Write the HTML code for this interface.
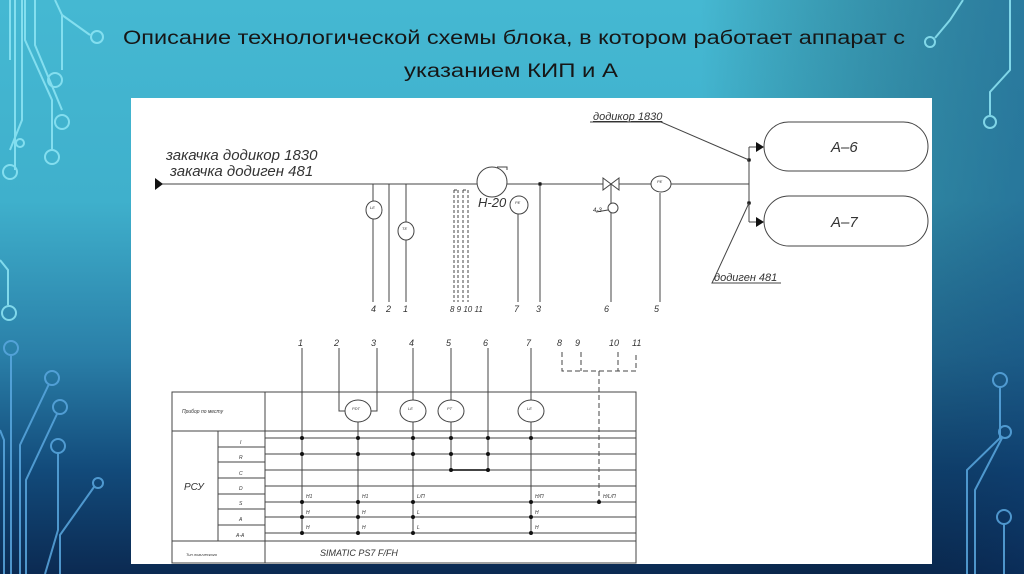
<!DOCTYPE html>
<html><head><meta charset="utf-8"><style>
html,body{margin:0;padding:0;width:1024px;height:574px;overflow:hidden}
body{background:linear-gradient(180deg,#45b8d2 0%,#3fb0cc 35%,#2a7fa8 62%,#124a7a 82%,#0b2a52 100%)}
svg{position:absolute;left:0;top:0}
.d text{font-family:"Liberation Sans",sans-serif;font-style:italic;fill:#333}
</style></head><body>
<svg width="1024" height="574" viewBox="0 0 1024 574">
<defs><linearGradient id="rg" x1="0" x2="1" y1="0" y2="0"><stop offset="0" stop-color="#000" stop-opacity="0"/><stop offset="1" stop-color="#0a3060" stop-opacity="0.45"/></linearGradient></defs>
<rect x="700" y="0" width="324" height="574" fill="url(#rg)"/>
<g fill="none" stroke="#8fe6f5" stroke-width="2" opacity="0.85">
<path d="M15 0V170"/><path d="M22 0V120L10 150"/><path d="M10 0V60"/>
<path d="M25 0V40L52 100V150"/><path d="M35 0V45L62 110"/>
<path d="M55 0L62 15V70"/><path d="M62 15L90 35"/>
<circle cx="10" cy="172" r="7"/><circle cx="20" cy="143" r="4"/><circle cx="55" cy="80" r="7"/><circle cx="62" cy="122" r="7"/><circle cx="52" cy="157" r="7"/><circle cx="97" cy="37" r="6"/>
<path d="M0 260L8 270V305"/><circle cx="9" cy="313" r="7"/>
<path d="M963 0L950 20L935 38"/><circle cx="930" cy="42" r="5"/>
<path d="M1010 0V70L990 92V115"/><circle cx="990" cy="122" r="6"/>
</g>
<g fill="none" stroke="#5aa8e0" stroke-width="2" opacity="0.85">
<circle cx="11" cy="348" r="7"/><path d="M11 355V574"/><path d="M0 430L4 440V574"/>
<circle cx="52" cy="378" r="7"/><path d="M49 384L20 445V574"/>
<circle cx="60" cy="407" r="7"/><path d="M57 414L26 480V574"/>
<circle cx="58" cy="446" r="7"/><path d="M58 453V530L45 574"/>
<circle cx="98" cy="483" r="5"/><path d="M94 487L60 535V574"/>
<circle cx="1000" cy="380" r="7"/><path d="M1000 387V438L967 470V574"/>
<circle cx="1005" cy="432" r="6"/><path d="M1002 438L975 490V574"/>
<circle cx="1004" cy="517" r="7"/><path d="M1004 524V574"/>
</g>
<g font-family="'Liberation Sans',sans-serif" font-size="19" fill="#161616">
<text x="123" y="44" textLength="782" lengthAdjust="spacingAndGlyphs">Описание технологической схемы блока, в котором работает аппарат с</text>
<text x="404" y="77" textLength="214" lengthAdjust="spacingAndGlyphs">указанием КИП и А</text>
</g>
<rect x="131" y="98" width="801" height="466" fill="#fff"/>
<g class="d" stroke="#444" stroke-width="1" fill="none">
<path d="M162 184H749"/>
<polygon points="155,178 163,184 155,190" fill="#111" stroke="none"/>
<path d="M373 184V302M389 184V302M406 184V302M518 213V302M540 184V302M611 184V302M660 193V302"/>
<ellipse cx="374" cy="210" rx="8" ry="9" fill="#fff"/>
<ellipse cx="406" cy="231" rx="8" ry="9" fill="#fff"/>
<path d="M454 190V302M458 190V302M463 190V302M468 190V302M454 190H458M463 190H468" stroke-dasharray="3,2"/>
<circle cx="492" cy="182" r="15" fill="#fff"/>
<path d="M497 167H507V170"/>
<ellipse cx="519" cy="205" rx="9" ry="9" fill="#fff"/>
<circle cx="540" cy="184" r="1.5" fill="#111"/>
<path d="M603 178L619 190V178L603 190Z" fill="#fff"/>
<circle cx="613" cy="208" r="5" fill="#fff"/>
<path d="M608 210L596 212"/>
<ellipse cx="661" cy="184" rx="10" ry="8" fill="#fff"/>
<path d="M749 147V222M749 147H757M749 222H757"/>
<polygon points="756,142 764,147 756,152" fill="#111" stroke="none"/>
<polygon points="756,217 764,222 756,227" fill="#111" stroke="none"/>
<circle cx="749" cy="160" r="1.5" fill="#111"/><circle cx="749" cy="203" r="1.5" fill="#111"/>
<path d="M590 122H661L749 160"/>
<path d="M749 203L712 283H781"/>
<rect x="764" y="122" width="164" height="49" rx="24.5" fill="#fff"/>
<rect x="764" y="196" width="164" height="50" rx="25" fill="#fff"/>
<rect x="172" y="392" width="464" height="171"/>
<path d="M172 431H636M172 541H636M265 392V563M218 431V541"/>
<path d="M218 447H265M218 462H265M218 478H265M218 494H265M218 509H265M218 525H265"/>
<path d="M265 438H636M265 454H636M265 470H636M265 486H636M265 502H636M265 517H636M265 533H636"/>
<path d="M302 348V533M339 348V411H345M377 348V411H371M358 422V533M413 348V533M451 348V470M488 348V470M531 348V533"/>
<path d="M451 470H488" stroke-width="2"/>
<ellipse cx="358" cy="411" rx="13" ry="11" fill="#fff"/>
<ellipse cx="413" cy="411" rx="13" ry="11" fill="#fff"/>
<ellipse cx="451" cy="411" rx="13" ry="11" fill="#fff"/>
<ellipse cx="531" cy="411" rx="13" ry="11" fill="#fff"/>
<path d="M413 502H447" stroke-dasharray="5,3"/>
<path d="M562 352V371H636V352M581 352V371M618 352V371M599 371V502" stroke-dasharray="5,3"/>
</g>
<g fill="#111">
<circle cx="302" cy="438" r="2"/><circle cx="302" cy="454" r="2"/><circle cx="302" cy="502" r="2"/><circle cx="302" cy="517" r="2"/><circle cx="302" cy="533" r="2"/>
<circle cx="358" cy="438" r="2"/><circle cx="358" cy="454" r="2"/><circle cx="358" cy="502" r="2"/><circle cx="358" cy="517" r="2"/><circle cx="358" cy="533" r="2"/>
<circle cx="413" cy="438" r="2"/><circle cx="413" cy="454" r="2"/><circle cx="413" cy="502" r="2"/><circle cx="413" cy="517" r="2"/><circle cx="413" cy="533" r="2"/>
<circle cx="451" cy="438" r="2"/><circle cx="451" cy="454" r="2"/><circle cx="451" cy="470" r="2"/>
<circle cx="488" cy="438" r="2"/><circle cx="488" cy="454" r="2"/><circle cx="488" cy="470" r="2"/>
<circle cx="531" cy="438" r="2"/><circle cx="531" cy="502" r="2"/><circle cx="531" cy="517" r="2"/><circle cx="531" cy="533" r="2"/>
<circle cx="599" cy="502" r="2"/>
</g>
<g class="d" font-size="9">
<text x="166" y="160" font-size="15">закачка додикор 1830</text>
<text x="170" y="176" font-size="15">закачка додиген 481</text>
<text x="478" y="207" font-size="13">Н-20</text>
<text x="593" y="120" font-size="11" text-decoration="underline">додикор 1830</text>
<text x="714" y="281" font-size="11">додиген 481</text>
<text x="831" y="152" font-size="15">А–6</text>
<text x="831" y="227" font-size="15">А–7</text>
<text x="593" y="212" font-size="6">4-3</text>
<text x="371" y="312">4</text><text x="386" y="312">2</text><text x="403" y="312">1</text>
<text x="450" y="312" font-size="8">8 9 10 11</text>
<text x="514" y="312">7</text><text x="536" y="312">3</text><text x="604" y="312">6</text><text x="654" y="312">5</text>
<text x="298" y="346">1</text><text x="334" y="346">2</text><text x="371" y="346">3</text><text x="409" y="346">4</text><text x="446" y="346">5</text><text x="483" y="346">6</text><text x="526" y="346">7</text>
<text x="557" y="346">8</text><text x="575" y="346">9</text><text x="609" y="346">10</text><text x="632" y="346">11</text>
<text x="182" y="413" font-size="5">Прибор по месту</text>
<text x="184" y="490" font-size="10">РСУ</text>
<text x="186" y="556" font-size="4">Тип логического</text>
<text x="320" y="556" font-size="9">SIMATIC PS7 F/FH</text>
<g font-size="5"><text x="240" y="444">I</text><text x="239" y="459">R</text><text x="239" y="475">C</text><text x="239" y="490">D</text><text x="239" y="505">S</text><text x="239" y="521">A</text><text x="236" y="537">A-A</text>
<text x="306" y="498">Н1</text><text x="362" y="498">Н1</text><text x="417" y="498">L/П</text><text x="535" y="498">Н/П</text><text x="603" y="498">Н/L/П</text>
<text x="306" y="514">Н</text><text x="362" y="514">Н</text><text x="417" y="514">L</text><text x="535" y="514">Н</text>
<text x="306" y="529">Н</text><text x="362" y="529">Н</text><text x="417" y="529">L</text><text x="535" y="529">Н</text>
</g>
<g font-size="4"><text x="370" y="209">LE</text><text x="402" y="230">TE</text><text x="515" y="204">PE</text><text x="657" y="183">PE</text>
<text x="352" y="410">PDT</text><text x="408" y="410">LE</text><text x="447" y="410">PT</text><text x="527" y="410">LE</text></g>
</g>
</svg>
</body></html>
